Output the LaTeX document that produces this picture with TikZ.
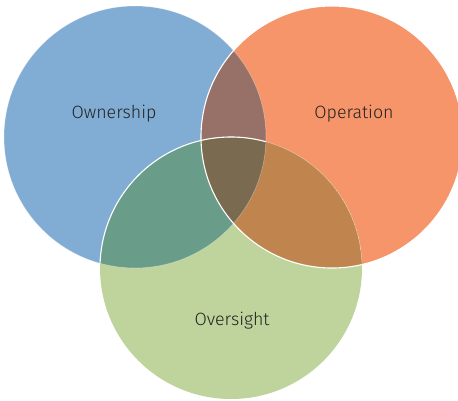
\documentclass[tikz,border=0pt]{standalone}
\usepackage{fontspec}
\setmainfont{Fira Sans}[UprightFont=* Light]
\definecolor{cblue}{HTML}{81ADD4}
\definecolor{corange}{HTML}{F7956A}
\definecolor{cgreen}{HTML}{BFD49C}
\definecolor{cbo}{HTML}{977168}
\definecolor{cbg}{HTML}{6A9D89}
\definecolor{cog}{HTML}{C0854F}
\definecolor{call}{HTML}{7A6A4F}
\definecolor{ctext}{HTML}{222222}
\begin{document}
\begin{tikzpicture}[x=1pt,y=-1pt,
  lab/.style={font=\fontsize{17.8}{20}\selectfont, text=ctext},
  edge/.style={draw=white, line width=1.1pt},
  faint/.style={draw=white, line width=0.6pt, opacity=0.35}]
\useasboundingbox (0,0) rectangle (458,400);
\coordinate (B) at (135,137);
\coordinate (O) at (332,137);
\coordinate (G) at (231,268);
\def\R{131}
\begin{scope}
\clip (0,0) rectangle (458,400);
\fill[cblue] (B) circle (\R);
\fill[corange] (O) circle (\R);
\fill[cgreen] (G) circle (\R);
\begin{scope}
  \clip (B) circle (\R);
  \fill[cbo] (O) circle (\R);
  \fill[cbg] (G) circle (\R);
  \clip (O) circle (\R);
  \fill[call] (G) circle (\R);
\end{scope}
\begin{scope}
  \clip (O) circle (\R);
  \clip (G) circle (\R);
  \fill[cog] (G) circle (\R);
  \clip (B) circle (\R);
  \fill[call] (G) circle (\R);
\end{scope}
% outlines
\draw[faint] (B) circle (\R);
\begin{scope}
  \clip (O) circle (\R);
  \draw[faint] (G) circle (\R);
\end{scope}
\begin{scope}
  \clip (B) circle (\R);
  \draw[edge] (G) circle (\R);
\end{scope}
\draw[edge] (O) circle (\R);
\end{scope}
\node[lab] (own) at (114,114) {Ownership};
\node[lab] (op) at (354,114) {Operation};
\node[lab] (ov) at (232,321) {Oversight};
\end{tikzpicture}
\end{document}
